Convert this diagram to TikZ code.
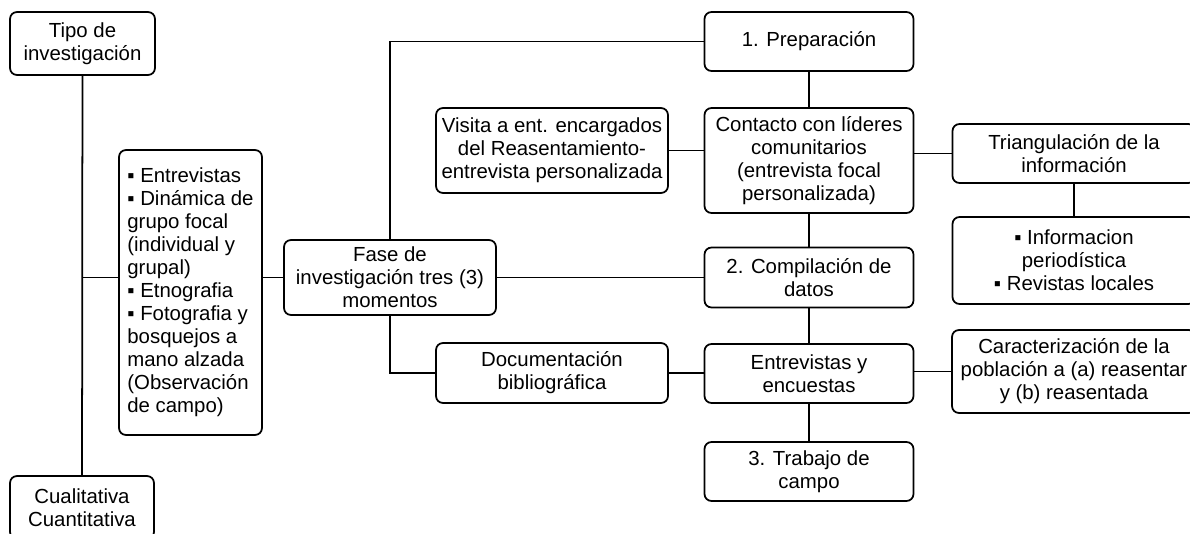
\documentclass[tikz,border=0pt]{standalone}
\usepackage{fontspec}
\setmainfont{Liberation Sans}
\usepackage{tikz}

\tikzset{
  caja/.style={draw, line width=1pt, rounded corners=4pt, align=center, inner sep=0pt,
    font=\fontsize{11.6}{13.1}\selectfont},
  linea/.style={line width=1pt}
}
\newcommand{\vin}{▪}

\begin{document}
\begin{tikzpicture}
	\useasboundingbox (0,0) rectangle (23.8,-10.68);
	\clip (0,0) rectangle (23.8,-10.68);
	\begin{scope}
		% columna izquierda
		\node[caja, minimum width=2.9cm, minimum height=1.26cm] (tipo) at (1.65,-0.87) {Tipo de\\investigación};
		\node[caja, minimum width=2.88cm, minimum height=1.26cm] (cuali) at (1.64,-10.15) {Cualitativa\\Cuantitativa};
		\node[caja, align=left, minimum width=2.86cm, minimum height=5.7cm] (lista) at (3.81,-5.85) {\vin{} Entrevistas\\\vin{} Dinámica de\\grupo focal\\(individual y\\grupal)\\\vin{} Etnografia\\\vin{} Fotografia y\\bosquejos a\\mano alzada\\(Observación\\de campo)};
		\node[caja, minimum width=4.24cm, minimum height=1.5cm] (fase) at (7.8,-5.55) {Fase de\\investigación tres (3)\\momentos};

		% columna media
		\node[caja, minimum width=4.64cm, minimum height=1.7cm] (visita) at (11.04,-3.01) {Visita a ent. encargados\\del Reasentamiento-\\entrevista personalizada};
		\node[caja, minimum width=4.64cm, minimum height=1.2cm] (docu) at (11.04,-7.46) {Documentación\\bibliográfica};

		% los tres momentos
		\node[caja, minimum width=4.18cm, minimum height=1.18cm] (prep) at (16.18,-0.83) {1. Preparación};
		\node[caja, minimum width=4.18cm, minimum height=2.1cm] (contacto) at (16.18,-3.21) {Contacto con líderes\\comunitarios\\(entrevista focal\\personalizada)};
		\node[caja, minimum width=4.18cm, minimum height=1.2cm] (comp) at (16.18,-5.55) {2. Compilación de\\datos};
		\node[caja, minimum width=4.18cm, minimum height=1.18cm] (entr) at (16.18,-7.47) {Entrevistas y\\encuestas};
		\node[caja, minimum width=4.18cm, minimum height=1.18cm] (trab) at (16.18,-9.43) {3. Trabajo de\\campo};

		% columna derecha
		\node[caja, minimum width=4.86cm, minimum height=1.18cm] (trian) at (21.48,-3.07) {Triangulación de la\\información};
		\node[caja, minimum width=4.86cm, minimum height=1.74cm] (info) at (21.48,-5.21) {\vin{} Informacion\\periodística\\\vin{} Revistas locales};
		\node[caja, minimum width=4.88cm, minimum height=1.66cm] (carac) at (21.48,-7.43) {Caracterización de la\\población a (a) reasentar\\y (b) reasentada};

		% conexiones
		\draw[linea] (tipo) -- (cuali);
		\draw[linea] (tipo.south |- fase.west) -- (lista.west |- fase.west);
		\draw[linea] (lista.east |- fase.west) -- (fase.west);
		\draw[linea] (fase.north) |- (prep.west); % fase a preparacion
		\draw[linea] (fase.south) |- (docu.west); % fase a documentacion
		\draw[linea] (fase.east) -- (comp.west);
		\draw[linea] (prep) -- (contacto);
		\draw[linea] (contacto) -- (comp);
		\draw[linea] (comp) -- (entr);
		\draw[linea] (entr) -- (trab);
		\draw[linea] (visita.east) -- (visita.east -| contacto.west);
		\draw[linea] (contacto.east |- trian.west) -- (trian.west);
		\draw[linea] (trian) -- (info);
		\draw[linea] (docu.east) -- (entr.west |- docu.east);
		\draw[linea] (entr.east |- carac.west) -- (carac.west);
	\end{scope}
\end{tikzpicture}
\end{document}
